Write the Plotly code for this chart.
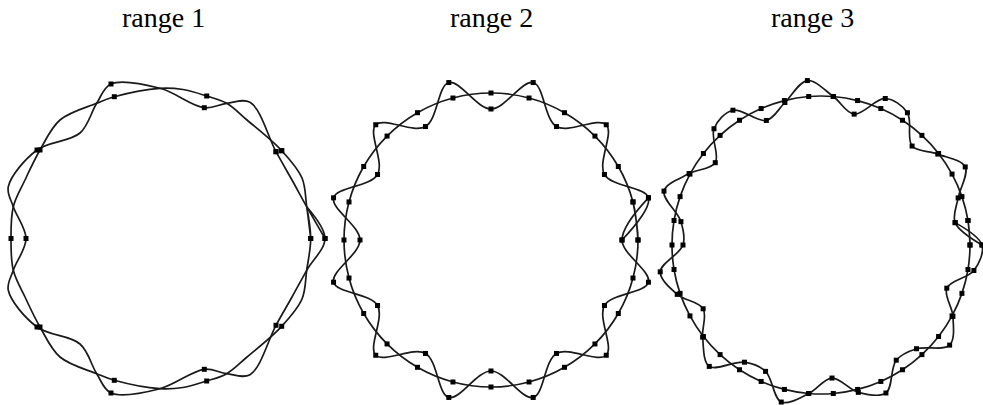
import numpy as np
import plotly.graph_objects as go

titles = ["range 1", "range 2", "range 3"]

# range 1: two wavy loops, upper half only (0 -> 180 deg),
# x / y measured from the centre of the panel, y pointing up
r1_a_x = [160, 141.7, 127, 111, 85, 61.7, 39.3, -5, -54, -68.3, -85, -128, -156.7, -151.7, -139]
r1_a_y = [0, 31.8, 58.5, 86.8, 136.2, 135.2, 130.8, 150.2, 154.5, 135.2, 105.5, 88.5, 51.8, 31.8, 0]
r1_b_x = [145.7, 141.7, 137, 116.7, 82, 61.7, 41.7, 18, -5, -50.7, -68.3, -105, -125, -140, -151.7, -154]
r1_b_y = [0, 31.8, 60.5, 87.8, 118.5, 135.2, 142.5, 149, 150.2, 141.8, 135.2, 118.5, 88.5, 58.5, 31.8, 0]
# sampled points on those loops (upper half)
r1_a_mx = [160, 111, 39.3, -54, -128, -139]
r1_a_my = [0, 86.8, 130.8, 154.5, 88.5, 0]
r1_b_mx = [145.7, 116.7, 41.7, -50.7, -125, -154]
r1_b_my = [0, 87.8, 142.5, 141.8, 88.5, 0]

# range 2: 24 samples, circle and 12-lobed curve (radius per sample)
r2_circle = [147] * 24
r2_wavy = [131, 163] * 12

# range 3: 38 samples, circle and irregular curve
r3_circle = [149] * 38
r3_wavy = [161, 136, 145, 164, 148, 134.5, 158, 160, 135, 149,
           165, 147, 136, 161, 158, 134, 150, 166, 142, 138,
           163, 152, 134, 150, 165, 140, 138, 162, 149, 133.5,
           152, 161.6, 137.6, 141, 163, 150, 133, 155]

LINE = dict(color='#1a1a1a', width=1.7, shape='spline')
MARK = dict(symbol='square', size=5, color='black')


def mirror(xs, ys):
    'upper half -> closed loop'
    x = list(xs) + [v for v in reversed(xs[1:-1])] + [xs[0], xs[1]]
    y = list(ys) + [-v for v in reversed(ys[1:-1])] + [ys[0], ys[1]]
    return x, y


def polar_xy(radii):
    ang = np.deg2rad(np.arange(len(radii)) * 360 / len(radii))
    r = np.array(radii, dtype=float)
    x, y = r * np.cos(ang), r * np.sin(ang)
    return list(x) + [x[0], x[1]], list(y) + [y[0], y[1]]


fig = go.Figure()

for cx, cy, mx, my in [(r1_a_x, r1_a_y, r1_a_mx, r1_a_my), (r1_b_x, r1_b_y, r1_b_mx, r1_b_my)]:
    x, y = mirror(cx, cy)
    fig.add_trace(go.Scatter(x=x, y=y, mode='lines', line=LINE, xaxis='x', yaxis='y'))
    x, y = mirror(mx, my)
    fig.add_trace(go.Scatter(x=x, y=y, mode='markers', marker=MARK, xaxis='x', yaxis='y'))

for radii, ax in [(r2_circle, '2'), (r2_wavy, '2'), (r3_circle, '3'), (r3_wavy, '3')]:
    x, y = polar_xy(radii)
    fig.add_trace(go.Scatter(x=x, y=y, mode='lines+markers', line=LINE, marker=MARK,
                             xaxis='x' + ax, yaxis='y' + ax))

W, H = 983, 405
# panel edges and centres in pixels
panels = [(0, 330, 165, 238.5), (330, 655, 491, 240), (655, 983, 821, 245)]
title_x = [163, 492, 812]

layout = dict(width=W, height=H, margin=dict(l=0, r=0, t=0, b=0),
              paper_bgcolor='white', plot_bgcolor='white', showlegend=False)
annotations = []
for i, (x0, x1, cx, cy) in enumerate(panels):
    sfx = '' if i == 0 else str(i + 1)
    layout['xaxis' + sfx] = dict(domain=[x0 / W, x1 / W], range=[x0 - cx, x1 - cx],
                                 visible=False, fixedrange=True)
    layout['yaxis' + sfx] = dict(domain=[0, 1], range=[-(H - cy), cy],
                                 visible=False, fixedrange=True)
    annotations.append(dict(text=titles[i], x=title_x[i] / W, y=1 - 18 / H,
                            xref='paper', yref='paper', showarrow=False,
                            xanchor='center', yanchor='middle',
                            font=dict(family='Liberation Serif', size=28, color='black')))

fig.update_layout(**layout, annotations=annotations)
fig.write_html("out.html", config={'displayModeBar': False},
               post_script="document.body.style.margin='0';")
